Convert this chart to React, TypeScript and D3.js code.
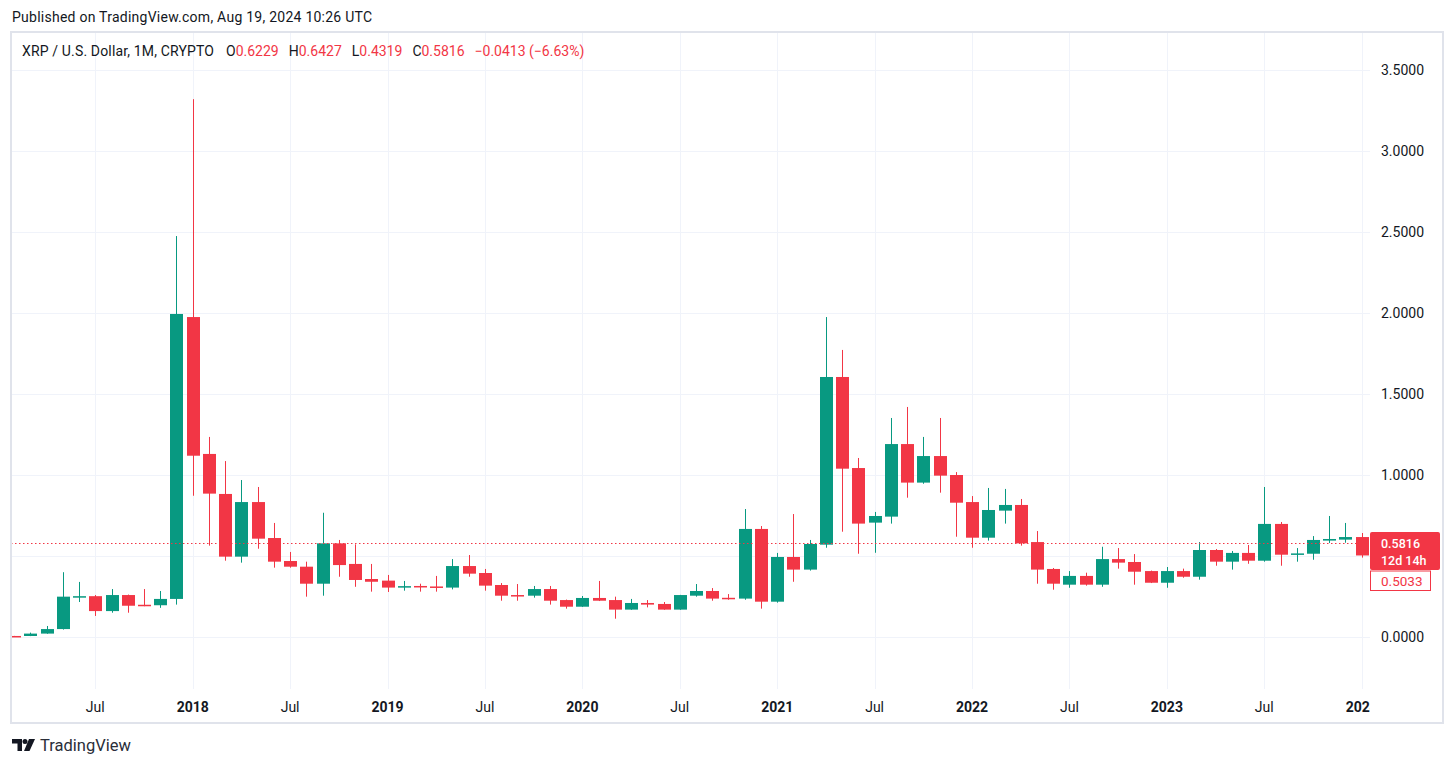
import React from "react";
import * as d3 from "d3";

// monthly XRP/USD candles, Feb 2017 .. Jan 2024
const months = [
  "2017-02", "2017-03", "2017-04", "2017-05", "2017-06", "2017-07", "2017-08", "2017-09", "2017-10", "2017-11", "2017-12",
  "2018-01", "2018-02", "2018-03", "2018-04", "2018-05", "2018-06", "2018-07", "2018-08", "2018-09", "2018-10", "2018-11", "2018-12",
  "2019-01", "2019-02", "2019-03", "2019-04", "2019-05", "2019-06", "2019-07", "2019-08", "2019-09", "2019-10", "2019-11", "2019-12",
  "2020-01", "2020-02", "2020-03", "2020-04", "2020-05", "2020-06", "2020-07", "2020-08", "2020-09", "2020-10", "2020-11", "2020-12",
  "2021-01", "2021-02", "2021-03", "2021-04", "2021-05", "2021-06", "2021-07", "2021-08", "2021-09", "2021-10", "2021-11", "2021-12",
  "2022-01", "2022-02", "2022-03", "2022-04", "2022-05", "2022-06", "2022-07", "2022-08", "2022-09", "2022-10", "2022-11", "2022-12",
  "2023-01", "2023-02", "2023-03", "2023-04", "2023-05", "2023-06", "2023-07", "2023-08", "2023-09", "2023-10", "2023-11", "2023-12",
  "2024-01",
];
const opens = [
  0.0064, 0.0062, 0.021, 0.049, 0.249, 0.252, 0.16, 0.259, 0.199, 0.196, 0.235,
  1.975, 1.13, 0.883, 0.496, 0.833, 0.611, 0.469, 0.434, 0.329, 0.578, 0.451, 0.358,
  0.348, 0.31, 0.315, 0.312, 0.305, 0.438, 0.395, 0.321, 0.259, 0.255, 0.296, 0.228,
  0.187, 0.241, 0.228, 0.169, 0.21, 0.204, 0.169, 0.255, 0.284, 0.242, 0.237, 0.667,
  0.218, 0.494, 0.416, 0.57, 1.605, 1.043, 0.706, 0.743, 1.191, 0.953, 1.117, 1.0,
  0.833, 0.613, 0.78, 0.815, 0.586, 0.42, 0.323, 0.377, 0.323, 0.481, 0.463, 0.407,
  0.335, 0.407, 0.372, 0.537, 0.465, 0.519, 0.471, 0.698, 0.508, 0.514, 0.595, 0.601,
  0.617,
];
const highs = [
  0.0068, 0.027, 0.068, 0.4, 0.34, 0.259, 0.296, 0.262, 0.296, 0.284, 2.475,
  3.32, 1.235, 1.086, 0.969, 0.926, 0.704, 0.525, 0.465, 0.767, 0.599, 0.572, 0.451,
  0.383, 0.346, 0.329, 0.377, 0.481, 0.506, 0.42, 0.333, 0.327, 0.315, 0.315, 0.231,
  0.253, 0.346, 0.249, 0.235, 0.228, 0.216, 0.26, 0.327, 0.302, 0.265, 0.79, 0.685,
  0.519, 0.759, 0.599, 1.975, 1.772, 1.105, 0.772, 1.352, 1.42, 1.235, 1.352, 1.018,
  0.87, 0.92, 0.914, 0.852, 0.654, 0.426, 0.407, 0.397, 0.557, 0.549, 0.512, 0.41,
  0.432, 0.422, 0.586, 0.543, 0.531, 0.568, 0.926, 0.71, 0.549, 0.623, 0.747, 0.704,
  0.642,
];
const lows = [
  0.0058, 0.0055, 0.02, 0.046, 0.216, 0.13, 0.15, 0.15, 0.19, 0.18, 0.2,
  0.872, 0.564, 0.471, 0.459, 0.545, 0.428, 0.428, 0.249, 0.255, 0.372, 0.31, 0.28,
  0.278, 0.286, 0.28, 0.28, 0.294, 0.372, 0.286, 0.224, 0.224, 0.243, 0.2, 0.175,
  0.186, 0.222, 0.113, 0.168, 0.183, 0.168, 0.168, 0.249, 0.224, 0.23, 0.23, 0.175,
  0.212, 0.341, 0.41, 0.551, 0.65, 0.514, 0.52, 0.7, 0.86, 0.946, 0.891, 0.619,
  0.551, 0.595, 0.7, 0.564, 0.329, 0.292, 0.304, 0.317, 0.31, 0.422, 0.323, 0.333,
  0.304, 0.366, 0.354, 0.44, 0.416, 0.452, 0.465, 0.44, 0.465, 0.477, 0.58, 0.582,
  0.49,
];
const closes = [
  0.0062, 0.021, 0.049, 0.249, 0.252, 0.16, 0.259, 0.193, 0.196, 0.235, 1.994,
  1.119, 0.885, 0.496, 0.833, 0.607, 0.465, 0.434, 0.329, 0.578, 0.444, 0.352, 0.341,
  0.305, 0.314, 0.312, 0.305, 0.438, 0.391, 0.317, 0.255, 0.256, 0.296, 0.224, 0.187,
  0.241, 0.224, 0.169, 0.21, 0.2, 0.169, 0.259, 0.284, 0.237, 0.239, 0.667, 0.218,
  0.494, 0.416, 0.574, 1.605, 1.039, 0.7, 0.747, 1.191, 0.953, 1.117, 0.996, 0.829,
  0.613, 0.784, 0.815, 0.578, 0.416, 0.329, 0.377, 0.323, 0.481, 0.459, 0.403, 0.335,
  0.407, 0.372, 0.537, 0.465, 0.519, 0.471, 0.698, 0.508, 0.516, 0.599, 0.605, 0.617,
  0.5033,
];

const priceTicks = [0, 0.5, 1, 1.5, 2, 2.5, 3, 3.5];
const timeTicks = [
  "2017-07", "2018-01", "2018-07", "2019-01", "2019-07", "2020-01", "2020-07",
  "2021-01", "2021-07", "2022-01", "2022-07", "2023-01", "2023-07", "2024-01",
];
const timeLabels = ["Jul", "2018", "Jul", "2019", "Jul", "2020", "Jul", "2021", "Jul", "2022", "Jul", "2023", "Jul", "2024"];

// legend of the current (Aug 2024) bar
const legendOHLC = [["O", "0.6229"], ["H", "0.6427"], ["L", "0.4319"], ["C", "0.5816"]];
const legendChange = "−0.0413 (−6.63%)";
const lastPrice = 0.5816;
const lastVisibleClose = 0.5033;
const countdown = "12d 14h";

const UP = "#089981";
const DOWN = "#f23645";
const GRID = "#f0f3fa";
const TEXT = "#131722";
const FONT = "Roboto, 'Noto Sans', sans-serif";

const monthIndex = (m: string) => {
  const [y, mo] = m.split("-").map(Number);
  return (y - 2017) * 12 + (mo - 1);
};

export default function App() {
  const width = 1456;
  const height = 766;
  const plot = { left: 11, right: 1370, top: 33, bottom: 689 };

  const x = d3.scaleLinear().domain([12, 84]).range([192.7, 1361.7]);
  const y = d3.scaleLinear().domain([0, 3.5]).range([637, 70]);

  const candles = months.map((m, i) => ({
    i: monthIndex(m),
    o: opens[i],
    h: highs[i],
    l: lows[i],
    c: closes[i],
  }));

  const fmt = d3.format(".4f");
  const bodyW = 13;

  // price-label boxes on the axis hide the tick labels underneath them
  const labelTop = 532;
  const labelBottom = 591;
  const visibleTicks = priceTicks.filter((t) => y(t) + 8 < labelTop || y(t) - 8 > labelBottom);

  return (
    <div style={{ position: "fixed", left: 0, top: 0, background: "#fff" }}>
      <svg width={width} height={height} style={{ display: "block", fontFamily: FONT }}>
        <defs>
          <clipPath id="plotClip">
            <rect x={plot.left} y={plot.top} width={plot.right - plot.left} height={plot.bottom - plot.top} />
          </clipPath>
          <clipPath id="timeClip">
            <rect x={plot.left} y={plot.bottom} width={plot.right - plot.left} height={34} />
          </clipPath>
        </defs>
        <rect width={width} height={height} fill="#fff" />

        <text x={12} y={22} fontSize={14} letterSpacing={0.25} fill={TEXT}>
          Published on TradingView.com, Aug 19, 2024 10:26 UTC
        </text>

        {/* grid */}
        <g clipPath="url(#plotClip)">
          {priceTicks.map((t) => (
            <line key={t} x1={plot.left} x2={plot.right} y1={Math.round(y(t)) + 0.5} y2={Math.round(y(t)) + 0.5} stroke={GRID} />
          ))}
          {timeTicks.map((t) => (
            <line key={t} x1={Math.round(x(monthIndex(t))) + 0.5} x2={Math.round(x(monthIndex(t))) + 0.5} y1={plot.top} y2={plot.bottom} stroke={GRID} />
          ))}
        </g>

        {/* candles */}
        <g clipPath="url(#plotClip)">
          {candles.map((d) => {
            const xc = Math.round(x(d.i));
            const col = d.c >= d.o ? UP : DOWN;
            const top = y(Math.max(d.o, d.c));
            const bot = y(Math.min(d.o, d.c));
            return (
              <g key={d.i}>
                <rect x={xc} y={y(d.h)} width={1} height={Math.max(1, y(d.l) - y(d.h))} fill={col} />
                <rect x={xc - 6} y={top} width={bodyW} height={Math.max(1.5, bot - top)} fill={col} />
              </g>
            );
          })}
          <line x1={plot.left} x2={plot.right} y1={Math.round(y(lastPrice)) + 0.5} y2={Math.round(y(lastPrice)) + 0.5}
            stroke={DOWN} strokeDasharray="1.5 2.5" />
        </g>

        {/* legend */}
        <text x={22} y={56} fontSize={14} fill={TEXT}>
          <tspan letterSpacing={0.15}>XRP / U.S. Dollar, 1M, CRYPTO</tspan>
          {legendOHLC.map(([k, v], j) => (
            <React.Fragment key={k}>
              <tspan dx={j === 0 ? 12 : 10}>{k}</tspan>
              <tspan fill={DOWN}>{v}</tspan>
            </React.Fragment>
          ))}
          <tspan dx={10} fill={DOWN}>{legendChange}</tspan>
        </text>

        {/* price axis */}
        {visibleTicks.map((t) => (
          <text key={t} x={1381} y={y(t) + 5} fontSize={14} fill={TEXT}>{fmt(t)}</text>
        ))}
        <rect x={1370} y={labelTop} width={70} height={38} rx={2} fill={DOWN} />
        <text x={1381} y={548} fontSize={12.5} fontWeight={500} fill="#fff">{fmt(lastPrice)}</text>
        <text x={1381} y={565} fontSize={12.5} fontWeight={500} fill="#fff">{countdown}</text>
        <rect x={1370.5} y={571} width={60} height={19.5} fill="#fff" stroke={DOWN} />
        <text x={1381} y={585.5} fontSize={13.5} fill={DOWN}>{fmt(lastVisibleClose)}</text>

        {/* time axis */}
        <g clipPath="url(#timeClip)">
          {timeTicks.map((t, k) => (
            <text key={t} x={x(monthIndex(t))} y={712} fontSize={14} textAnchor="middle"
              fontWeight={timeLabels[k] === "Jul" ? 400 : 700} fill={TEXT}>{timeLabels[k]}</text>
          ))}
        </g>

        {/* frame */}
        <rect x={11} y={32} width={1432} height={691} fill="none" stroke="#e0e3eb" strokeWidth={2} />

        {/* logo */}
        <g fill={TEXT}>
          <path d="M12 739 H22 V751 H17.5 V743.5 H12 Z" />
          <circle cx={25} cy={741.5} r={2.5} />
          <path d="M29 739 H35 L29.5 751 H24 Z" />
        </g>
        <text x={40} y={751} fontSize={16.5} fill="#2a2e39">TradingView</text>
      </svg>
    </div>
  );
}
